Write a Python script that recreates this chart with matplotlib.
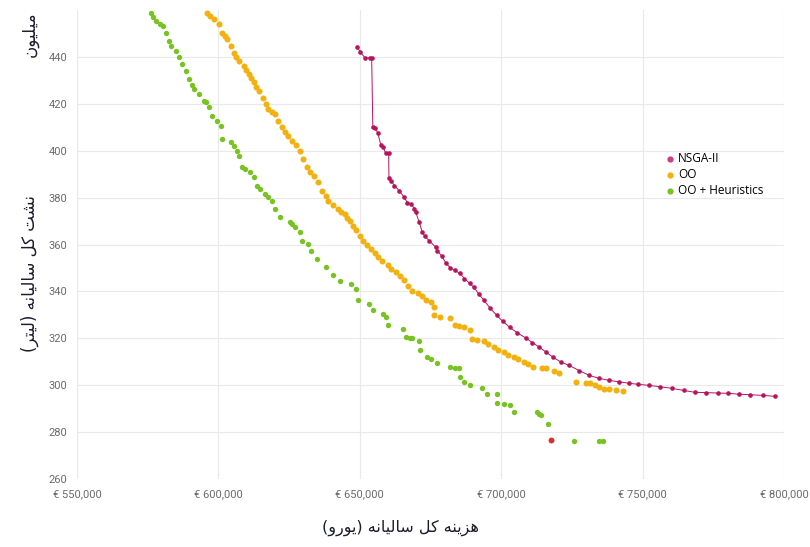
import matplotlib
matplotlib.use("Agg")
import matplotlib.pyplot as plt
from matplotlib.ticker import FuncFormatter

# --- data (cost in thousand euro, leakage in million litres) ---
nsga_cost = [649.0, 650.2, 651.8, 653.5, 654.2, 654.6, 655.5, 656.3, 657.4, 658.3,
             659.1, 660.2, 660.3, 661.2, 662.2, 663.9, 665.7, 666.8, 668.0, 669.3,
             669.8, 671.0, 672.1, 673.0, 674.5, 676.8, 677.4, 679.0, 680.5, 681.9,
             683.5, 685.4, 687.0, 688.8, 690.4, 692.0, 693.9, 696.0, 698.4, 700.5,
             703.0, 705.5, 708.9, 711.0, 713.5, 716.0, 718.4, 721.0, 724.0, 727.5,
             731.0, 734.5, 738.1, 741.5, 745.1, 748.5, 752.1, 756.0, 760.5, 764.5,
             768.6, 772.5, 776.5, 780.2, 784.0, 788.0, 792.5, 796.7]
nsga_leak = [444.3, 442.0, 439.6, 439.5, 439.3, 410.2, 409.5, 407.7, 402.6, 401.5,
             399.0, 398.8, 388.5, 387.0, 385.1, 383.0, 380.1, 377.9, 377.4, 375.3,
             373.7, 369.5, 365.2, 363.5, 361.7, 358.9, 357.4, 355.0, 352.0, 350.2,
             349.0, 347.7, 345.5, 343.5, 341.7, 339.0, 336.2, 333.0, 329.8, 327.3,
             324.7, 322.5, 320.0, 318.2, 316.2, 314.0, 311.9, 310.0, 308.5, 306.3,
             304.3, 303.0, 302.1, 301.5, 300.9, 300.4, 300.0, 299.4, 298.7, 297.8,
             297.0, 296.9, 296.7, 296.6, 296.2, 296.0, 295.7, 295.3]

oo_cost = [596.1, 597.2, 598.4, 600.2, 601.3, 602.2, 603.1, 604.3, 605.4, 606.3,
           607.2, 608.9, 609.8, 610.7, 611.6, 612.5, 613.4, 614.2, 615.7, 616.8,
           617.7, 618.9, 620.1, 621.2, 622.4, 623.5, 624.7, 625.9, 627.3, 628.8,
           630.0, 631.2, 632.5, 633.8, 635.3, 636.8, 638.0, 638.8, 640.5, 642.3,
           643.5, 644.6, 645.5, 646.4, 647.5, 648.7, 650.0, 651.1, 652.5, 654.0,
           655.2, 656.3, 658.0, 659.8, 661.2, 662.7, 664.2, 665.7, 667.2, 668.6,
           670.4, 672.0, 673.5, 675.0, 676.3, 676.3, 678.4, 681.9, 683.7, 685.2,
           686.8, 689.0, 689.6, 691.5, 693.9, 695.5, 697.4, 699.0, 700.9, 702.5,
           704.4, 706.0, 707.9, 709.5, 711.4, 714.5, 716.0, 718.5, 720.5, 726.5,
           730.0, 731.5, 733.0, 734.6, 736.5, 738.1, 740.5, 743.0]
oo_leak = [458.7, 457.5, 456.0, 453.9, 450.3, 449.0, 447.5, 444.7, 441.8, 440.0,
           438.3, 436.2, 434.5, 432.6, 431.0, 429.1, 427.3, 425.5, 422.5, 420.0,
           417.7, 416.5, 415.6, 412.8, 409.9, 408.0, 406.2, 404.3, 402.2, 400.0,
           396.5, 392.9, 391.0, 389.0, 386.5, 383.0, 380.5, 378.7, 377.0, 375.2,
           374.0, 373.1, 371.5, 370.2, 368.0, 366.0, 363.5, 361.7, 360.0, 358.2,
           356.5, 354.6, 352.8, 351.1, 349.5, 348.2, 346.5, 344.7, 342.5, 340.4,
           339.5, 338.0, 336.5, 335.5, 333.5, 329.8, 329.0, 328.5, 325.5, 325.2,
           324.7, 323.4, 319.6, 319.2, 318.7, 317.4, 316.2, 315.0, 314.0, 313.0,
           311.9, 311.0, 309.8, 309.0, 308.0, 307.5, 307.2, 306.0, 305.1, 301.3,
           301.0, 300.8, 300.0, 299.1, 298.6, 298.3, 297.8, 297.5]

ooh_cost = [576.2, 577.0, 578.0, 579.2, 580.3, 581.5, 582.6, 583.2, 585.0, 586.1,
            587.3, 588.5, 589.6, 590.5, 591.4, 593.2, 594.9, 595.5, 596.7, 597.8,
            599.6, 600.8, 601.3, 604.3, 605.4, 606.6, 607.2, 608.4, 609.5, 611.3,
            612.5, 613.6, 614.8, 616.6, 617.7, 618.9, 620.1, 621.8, 625.3, 625.9,
            627.1, 628.8, 629.4, 631.8, 632.9, 634.7, 638.2, 640.5, 642.9, 646.9,
            648.7, 649.3, 653.4, 654.6, 658.1, 659.2, 659.8, 665.1, 666.2, 667.9,
            668.6, 671.1, 671.4, 673.9, 675.0, 677.4, 681.9, 683.5, 685.1, 685.4,
            686.8, 689.0, 693.2, 694.9, 698.4, 698.4, 700.9, 703.0, 704.4, 712.5,
            713.5, 714.2, 716.7, 725.8, 734.6, 736.0]
ooh_leak = [458.7, 457.0, 455.3, 454.0, 453.2, 450.3, 446.8, 444.7, 442.6, 439.7,
            436.9, 434.0, 430.5, 428.0, 426.2, 424.1, 421.3, 420.6, 418.4, 414.9,
            412.8, 410.6, 405.0, 403.5, 402.1, 400.0, 397.9, 392.9, 392.2, 390.8,
            388.6, 385.1, 383.7, 381.6, 380.1, 378.7, 375.2, 371.6, 369.5, 368.8,
            367.4, 365.2, 361.7, 360.3, 357.4, 353.9, 350.3, 346.8, 344.3, 343.3,
            341.2, 336.2, 334.5, 331.9, 330.2, 329.1, 325.5, 324.1, 320.6, 320.0,
            320.3, 318.7, 314.9, 311.9, 311.0, 309.4, 307.7, 307.5, 307.2, 303.4,
            301.3, 300.0, 298.7, 296.2, 296.2, 292.3, 291.9, 291.5, 288.5, 288.5,
            287.8, 287.2, 283.4, 276.2, 276.2, 276.2]

marked_cost = [717.5]
marked_leak = [276.6]

x_ticks = [550, 600, 650, 700, 750, 800]
y_ticks = [260, 280, 300, 320, 340, 360, 380, 400, 420, 440]

x_label = "هزینه کل سالیانه (یورو)"
y_label = "نشت کل سالیانه (لیتر)"
y_unit = "میلیون"

# --- simple Persian shaping (matplotlib has no RTL/joining support) ---
FORMS = {  # isolated, final, initial, medial
    '\u0627': ('\uFE8D', '\uFE8E', None, None),
    '\u062A': ('\uFE95', '\uFE96', '\uFE97', '\uFE98'),
    '\u0631': ('\uFEAD', '\uFEAE', None, None),
    '\u0632': ('\uFEAF', '\uFEB0', None, None),
    '\u0633': ('\uFEB1', '\uFEB2', '\uFEB3', '\uFEB4'),
    '\u0634': ('\uFEB5', '\uFEB6', '\uFEB7', '\uFEB8'),
    '\u06A9': ('\uFB8E', '\uFB8F', '\uFB90', '\uFB91'),
    '\u0644': ('\uFEDD', '\uFEDE', '\uFEDF', '\uFEE0'),
    '\u0645': ('\uFEE1', '\uFEE2', '\uFEE3', '\uFEE4'),
    '\u0646': ('\uFEE5', '\uFEE6', '\uFEE7', '\uFEE8'),
    '\u0647': ('\uFEE9', '\uFEEA', '\uFEEB', '\uFEEC'),
    '\u0648': ('\uFEED', '\uFEEE', None, None),
    '\u06CC': ('\uFBFC', '\uFBFD', '\uFBFE', '\uFBFF'),
}


def shape(text):
    text = text.replace('\u064A', '\u06CC').replace('\u0643', '\u06A9')
    out = []
    for i, ch in enumerate(text):
        if ch not in FORMS:
            out.append({'(': ')', ')': '('}.get(ch, ch))
            continue
        prev = text[i - 1] if i > 0 else ''
        nxt = text[i + 1] if i + 1 < len(text) else ''
        join_prev = prev in FORMS and FORMS[prev][2] is not None
        join_next = FORMS[ch][2] is not None and nxt in FORMS
        iso, fin, ini, med = FORMS[ch]
        if join_prev and join_next:
            out.append(med)
        elif join_prev:
            out.append(fin)
        elif join_next:
            out.append(ini)
        else:
            out.append(iso)
    return ''.join(reversed(out))


RED = '#b8145c'
ORANGE = '#f2b10e'
GREEN = '#78c321'

fig = plt.figure(figsize=(8.1, 5.47), dpi=100)
ax = fig.add_axes([0.095, 0.124, 0.873, 0.858])

ax.plot([c * 1000 for c in nsga_cost], nsga_leak, color=RED, lw=0.7,
        marker='o', markersize=2.3, zorder=3)
ax.scatter([c * 1000 for c in oo_cost], oo_leak, s=19, color=ORANGE,
           linewidths=0, zorder=2)
ax.scatter([c * 1000 for c in ooh_cost], ooh_leak, s=15, color=GREEN,
           linewidths=0, zorder=2)
ax.scatter([c * 1000 for c in marked_cost], marked_leak, s=18, color='#d8302a',
           linewidths=0, zorder=4)

# legend handles
ax.scatter([], [], s=12, color='#d63a80', label='NSGA-II')
ax.scatter([], [], s=12, color=ORANGE, label='OO')
ax.scatter([], [], s=12, color=GREEN, label='OO + Heuristics')
ax.legend(loc='upper left', bbox_to_anchor=(0.822, 0.707), frameon=False,
          handletextpad=0.1, labelspacing=0.25, borderaxespad=0,
          handlelength=1.2, prop={'family': 'Open Sans', 'size': 8.5})

ax.set_xlim(550000, 800000)
ax.set_ylim(260, 460)
ax.set_xticks([t * 1000 for t in x_ticks])
ax.set_yticks(y_ticks)
ax.xaxis.set_major_formatter(FuncFormatter(lambda v, p: f"€ {v:,.0f}"))
ax.grid(True, color='#e9e9e9', lw=0.8)
ax.set_axisbelow(True)
for s in ax.spines.values():
    s.set_visible(False)
ax.tick_params(length=0, labelsize=8, labelcolor='#6b6b6b', pad=7)
for lab in ax.get_xticklabels() + ax.get_yticklabels():
    lab.set_fontfamily('Roboto')

fig.text(0.494, 0.035, shape(x_label), ha='center', va='center',
         fontsize=11.5, color='#1c1c2c', family='DejaVu Sans')
fig.text(0.037, 0.50, shape(y_label), ha='center', va='center', rotation=90,
         fontsize=12, color='#1c1c2c', family='DejaVu Sans')
fig.text(0.037, 0.937, shape(y_unit), ha='center', va='center', rotation=90,
         fontsize=12, color='#1c1c2c', family='DejaVu Sans')

fig.savefig('out.png', dpi=100)
